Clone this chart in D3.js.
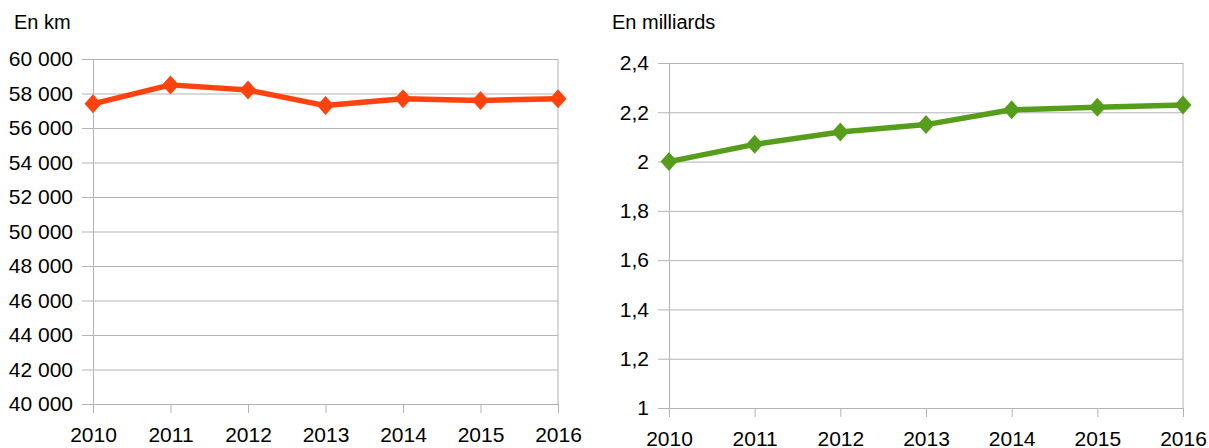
<!DOCTYPE html>
<html>
<head>
<meta charset="utf-8">
<script src="https://cdn.jsdelivr.net/npm/d3@7"></script>
<style>
  body { margin: 0; background: #fff; }
  svg { display: block; font-family: "Liberation Sans", Arial, sans-serif; }
</style>
</head>
<body>
<svg id="chart" width="1209" height="448"></svg>
<script>
let years = [2010, 2011, 2012, 2013, 2014, 2015, 2016];
let kmValues = [57400, 58500, 58200, 57300, 57700, 57600, 57700];
let passValues = [2.0, 2.07, 2.12, 2.15, 2.21, 2.22, 2.23];
let kmTicks = [40000, 42000, 44000, 46000, 48000, 50000, 52000, 54000, 56000, 58000, 60000];
let passTicks = [1, 1.2, 1.4, 1.6, 1.8, 2, 2.2, 2.4];

let fr = d3.formatLocale({decimal: ",", thousands: " ", grouping: [3], currency: ["", " €"]});

let gridColour = "#b3b3b3";

// diamond a bit wider than d3's own
let diamond = {
    draw: function (ctx, size) {
        let w = 8.5, h = 9.5;
        ctx.moveTo(0, -h);
        ctx.lineTo(w, 0);
        ctx.lineTo(0, h);
        ctx.lineTo(-w, 0);
        ctx.closePath();
    }
};

let svg = d3.select("#chart");

function drawPanel(opts) {
    let x = d3.scalePoint().domain(years).range([opts.left, opts.right]);
    let y = d3.scaleLinear().domain(opts.domain).range([opts.bottom, opts.top]);

    let g = svg.append("g");

    // horizontal grid
    g.append("g")
        .attr("transform", "translate(" + opts.left + ",0)")
        .call(d3.axisLeft(y).tickValues(opts.ticks).tickSize(-(opts.right - opts.left)).tickFormat(""))
        .call(s => s.select(".domain").remove())
        .call(s => s.selectAll("line").attr("stroke", gridColour));

    // y axis with labels
    g.append("g")
        .attr("transform", "translate(" + opts.left + ",0)")
        .call(d3.axisLeft(y).tickValues(opts.ticks).tickSize(11).tickPadding(9).tickFormat(opts.fmt))
        .call(s => s.select(".domain").attr("stroke", gridColour))
        .call(s => s.selectAll("line").attr("stroke", gridColour))
        .call(s => s.selectAll("text").attr("font-size", 21).attr("fill", "#000").attr("font-family", "Liberation Sans, Arial, sans-serif"));

    // x axis
    g.append("g")
        .attr("transform", "translate(0," + opts.bottom + ")")
        .call(d3.axisBottom(x).tickSize(9).tickPadding(14).tickFormat(d3.format("d")))
        .call(s => s.select(".domain").remove())
        .call(s => s.selectAll("line").attr("stroke", gridColour))
        .call(s => s.selectAll("text").attr("font-size", 21).attr("fill", "#000").attr("font-family", "Liberation Sans, Arial, sans-serif"));

    // right border
    g.append("line")
        .attr("x1", opts.right).attr("x2", opts.right)
        .attr("y1", y(opts.domain[1])).attr("y2", y(opts.domain[0]))
        .attr("stroke", gridColour);

    // unit label
    g.append("text")
        .attr("x", opts.titleX).attr("y", 29)
        .attr("font-size", 20)
        .text(opts.title);

    let line = d3.line()
        .x((d, i) => x(years[i]))
        .y(d => y(d));

    g.append("path")
        .datum(opts.values)
        .attr("d", line)
        .attr("fill", "none")
        .attr("stroke", opts.colour)
        .attr("stroke-width", 5.5)
        .attr("stroke-linejoin", "round");

    g.selectAll(".pt")
        .data(opts.values)
        .enter().append("path")
        .attr("class", "pt")
        .attr("transform", (d, i) => "translate(" + x(years[i]) + "," + y(d) + ")")
        .attr("d", d3.symbol().type(diamond))
        .attr("fill", opts.colour);
}

drawPanel({
    left: 93, right: 558, top: 59, bottom: 404,
    domain: [40000, 60000], ticks: kmTicks, values: kmValues,
    fmt: fr.format(","), colour: "#ff420e",
    title: "En km", titleX: 14
});

drawPanel({
    left: 669, right: 1183, top: 63, bottom: 408,
    domain: [1, 2.4], ticks: passTicks, values: passValues,
    fmt: fr.format("~g"), colour: "#579d1c",
    title: "En milliards", titleX: 612
});
</script>
</body>
</html>
